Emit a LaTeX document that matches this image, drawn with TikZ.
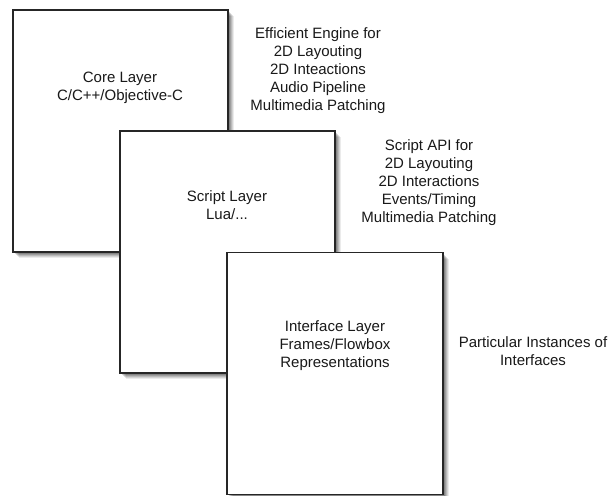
\documentclass[tikz,border=0pt]{standalone}
\usepackage{fontspec}
\setmainfont{Liberation Sans}
\begin{document}
\begin{tikzpicture}[x=1pt,y=-1pt,
  layer/.style={draw=black!85, line width=1.1pt, fill=white, rectangle, inner sep=0pt,
    preaction={fill=black, opacity=0.08, transform canvas={shift={(6pt,-6pt)}}},
    preaction={fill=black, opacity=0.10, transform canvas={shift={(5pt,-5pt)}}},
    preaction={fill=black, opacity=0.12, transform canvas={shift={(4pt,-4pt)}}},
    preaction={fill=black, opacity=0.14, transform canvas={shift={(3pt,-3pt)}}},
    preaction={fill=black, opacity=0.16, transform canvas={shift={(2pt,-2pt)}}}},
  lbl/.style={align=center, inner sep=0pt, text=black!90, font=\fontsize{15}{18}\selectfont}]
\useasboundingbox (0,0) rectangle (610,495);
\fill[white] (0,0) rectangle (610,495);
% boxes
\node[layer, minimum width=215, minimum height=242] (core) at (120.5,131) {};
\node[layer, minimum width=215, minimum height=242] (script) at (227.5,252) {};
\node[layer, minimum width=216, minimum height=242] (iface) at (335,373.5) {};
% box texts
\node[lbl] (coret) at (120,87.5) {Core Layer\\C/C++/Objective-C};
\node[lbl] (scriptt) at (227,205) {Script Layer\\Lua/...};
\node[lbl] (ifacet) at (335,346) {Interface Layer\\Frames/Flowbox\\Representations};
% side texts
\node[lbl] (coren) at (318,71) {Efficient Engine for\\2D Layouting\\2D Inteactions\\Audio Pipeline\\Multimedia Patching};
\node[lbl] (scriptn) at (429,183) {Script API for\\2D Layouting\\2D Interactions\\Events/Timing\\Multimedia Patching};
\node[lbl] (ifacen) at (533,351) {Particular Instances of\\Interfaces};
\end{tikzpicture}
\end{document}
